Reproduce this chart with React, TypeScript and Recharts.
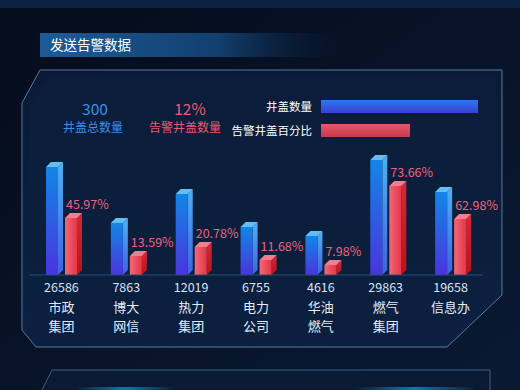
import { Bar, BarChart, LabelList, XAxis, YAxis } from 'recharts';

const categories = ['市政\n集团', '博大\n网信', '热力\n集团', '电力\n公司', '华油\n燃气', '燃气\n集团', '信息办'];
const coverCounts = [26586, 7863, 12019, 6755, 4616, 29863, 19658];
const alarmRates = [45.97, 13.59, 20.78, 11.68, 7.98, 73.66, 62.98];
// drawn bar levels (the original bars are not proportional to the labels)
const coverLevels = [108, 52, 81, 48, 39, 115, 83];
const rateLevels = [57, 19, 28, 15, 10, 89, 56];

const FONT = "'Noto Sans CJK SC', 'Noto Sans', sans-serif";
const DEPTH = 5;

const chartData = categories.map((name, i) => ({
  name,
  count: coverCounts[i],
  rate: alarmRates[i],
  cover: coverLevels[i],
  alarm: rateLevels[i],
}));

function Block3D(props: any) {
  const { x, y, width, height, tone } = props;
  if (!height || height <= 0) return null;
  const base = y + height;
  const d = DEPTH;
  return (
    <g>
      <polygon
        points={`${x + width},${y} ${x + width + d},${y - d} ${x + width + d},${base - d} ${x + width},${base}`}
        fill={`url(#${tone}Side)`}
      />
      <polygon
        points={`${x},${y} ${x + d},${y - d} ${x + width + d},${y - d} ${x + width},${y}`}
        fill={tone === 'blue' ? '#63bff3' : '#f37e8d'}
      />
      <rect x={x} y={y} width={width} height={height} fill={`url(#${tone}Front)`} />
    </g>
  );
}

function CategoryTick({ x, y, payload }: any) {
  const lines = String(payload.value).split('\n');
  const idx = payload.index;
  return (
    <g fontFamily={FONT}>
      <text x={x} y={y + 9} textAnchor="middle" fontSize={12.5} fill="#d6e4f4">
        {coverCounts[idx]}
      </text>
      <text x={x} y={y + 29} textAnchor="middle" fontSize={13} fill="#e4eefa">
        {lines.map((l, i) => (
          <tspan key={i} x={x} dy={i === 0 ? 0 : 19}>
            {l}
          </tspan>
        ))}
      </text>
    </g>
  );
}

function RateLabel({ x, y, index }: any) {
  return (
    <text x={x + 1} y={y - 9} fontSize={12.5} fill="#f0607a" fontFamily={FONT}>
      {alarmRates[index].toFixed(2)}%
    </text>
  );
}

function Backdrop() {
  return (
    <svg width={520} height={390} style={{ position: 'absolute', left: 0, top: 0 }}>
      <defs>
        <linearGradient id="pageBg" x1="0" y1="0" x2="1" y2="1">
          <stop offset="0" stopColor="#050c1c" />
          <stop offset="1" stopColor="#0a1a33" />
        </linearGradient>
        <linearGradient id="titleBg" x1="0" y1="0" x2="1" y2="0">
          <stop offset="0" stopColor="#1d5b96" />
          <stop offset="0.6" stopColor="#123f6e" />
          <stop offset="1" stopColor="#0a1e3a" stopOpacity="0" />
        </linearGradient>
        <linearGradient id="panelBg" x1="0" y1="0" x2="0" y2="1">
          <stop offset="0" stopColor="#0a1a36" />
          <stop offset="1" stopColor="#0c2142" />
        </linearGradient>
        <linearGradient id="decoLine" x1="0" y1="0" x2="1" y2="0">
          <stop offset="0" stopColor="#1c3f6c" />
          <stop offset="0.5" stopColor="#3d74b4" />
          <stop offset="1" stopColor="#1c3f6c" />
        </linearGradient>
        <linearGradient id="legendBlue" x1="0" y1="0" x2="0" y2="1">
          <stop offset="0" stopColor="#2a78ee" />
          <stop offset="1" stopColor="#3b3fd6" />
        </linearGradient>
        <linearGradient id="legendRed" x1="0" y1="0" x2="0" y2="1">
          <stop offset="0" stopColor="#e45a6a" />
          <stop offset="1" stopColor="#c63a4a" />
        </linearGradient>
        <linearGradient id="glow" x1="0" y1="0" x2="1" y2="0">
          <stop offset="0" stopColor="#22a6e6" stopOpacity="0" />
          <stop offset="0.5" stopColor="#1f9ad8" stopOpacity="0.7" />
          <stop offset="1" stopColor="#22a6e6" stopOpacity="0" />
        </linearGradient>
      </defs>
      <rect width={520} height={390} fill="url(#pageBg)" />
      <rect width={520} height={8} fill="#0b2242" />
      <rect x={40} y={33} width={300} height={24} fill="url(#titleBg)" />
      <text x={50} y={50} fontSize={13.5} fill="#ffffff" fontFamily={FONT}>发送告警数据</text>

      <polygon
        points="40,70 502,70 502,295 447,347 36,347 22,330 22,103"
        fill="url(#panelBg)"
        stroke="#58789e"
        strokeWidth={1}
      />
      <polygon
        points="50,76 496,76 496,292 443,341 42,341 30,326 30,105"
        fill="#0b1f3e"
        opacity={0.6}
      />

      <line x1={60} y1={96} x2={127} y2={96} stroke="url(#decoLine)" strokeWidth={1.5} />
      <line x1={60} y1={140} x2={127} y2={140} stroke="url(#decoLine)" strokeWidth={1.5} />
      <line x1={152} y1={96} x2={218} y2={96} stroke="url(#decoLine)" strokeWidth={1.5} />
      <line x1={152} y1={140} x2={218} y2={140} stroke="url(#decoLine)" strokeWidth={1.5} />
      <g fontFamily={FONT} textAnchor="middle">
        <text x={95} y={115} fontSize={15.5} fill="#3b8fe6">300</text>
        <text x={93} y={132} fontSize={12} fill="#3b8fe6">井盖总数量</text>
        <text x={190} y={115} fontSize={15.5} fill="#e85a70">12%</text>
        <text x={185} y={132} fontSize={12} fill="#e85a70">告警井盖数量</text>
      </g>

      <g fontFamily={FONT} textAnchor="end" fontSize={11.5} fill="#ffffff">
        <text x={312} y={111}>井盖数量</text>
        <text x={312} y={135}>告警井盖百分比</text>
      </g>
      <rect x={321} y={100} width={157} height={13} fill="url(#legendBlue)" />
      <rect x={321} y={124} width={89} height={13} fill="url(#legendRed)" />

      <polyline points="42,390 52,370 490,370 490,390" fill="#0a1a34" stroke="#3e5e86" strokeWidth={1} />
      <rect x={75} y={387} width={100} height={3} fill="url(#glow)" />
      <rect x={355} y={387} width={120} height={3} fill="url(#glow)" />
    </svg>
  );
}

export default function App() {
  return (
    <div style={{ position: 'absolute', left: 0, top: 0, width: 520, height: 390, overflow: 'hidden' }}>
      <Backdrop />
      <div style={{ position: 'absolute', left: 0, top: 0 }}>
        <BarChart
          width={520}
          height={390}
          data={chartData}
          margin={{ top: 145, right: 37, left: 29, bottom: 0 }}
          barSize={12}
          barGap={7}
        >
          <defs>
            <linearGradient id="blueFront" x1="0" y1="0" x2="0" y2="1">
              <stop offset="0" stopColor="#1186e6" />
              <stop offset="1" stopColor="#4a34de" />
            </linearGradient>
            <linearGradient id="blueSide" x1="0" y1="0" x2="0" y2="1">
              <stop offset="0" stopColor="#4fb0f0" />
              <stop offset="1" stopColor="#3f62e0" />
            </linearGradient>
            <linearGradient id="redFront" x1="0" y1="0" x2="1" y2="0">
              <stop offset="0" stopColor="#f3677a" />
              <stop offset="1" stopColor="#e53646" />
            </linearGradient>
            <linearGradient id="redSide" x1="0" y1="0" x2="0" y2="1">
              <stop offset="0" stopColor="#d42a36" />
              <stop offset="1" stopColor="#b8121a" />
            </linearGradient>
          </defs>
          <XAxis
            dataKey="name"
            height={115}
            interval={0}
            tickLine={false}
            axisLine={{ stroke: '#2c4d76' }}
            tick={<CategoryTick />}
          />
          <YAxis hide domain={[0, 130]} allowDataOverflow />
          <Bar
            dataKey="cover"
            isAnimationActive={false}
            shape={(p: any) => <Block3D {...p} tone="blue" />}
          />
          <Bar
            dataKey="alarm"
            isAnimationActive={false}
            shape={(p: any) => <Block3D {...p} tone="red" />}
          >
            <LabelList dataKey="rate" content={<RateLabel />} />
          </Bar>
        </BarChart>
      </div>
    </div>
  );
}
